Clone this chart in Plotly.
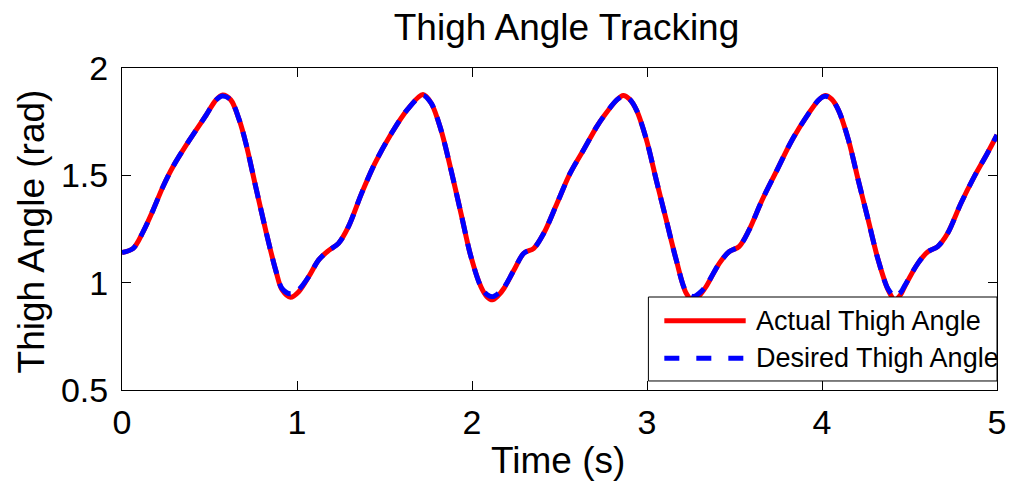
import plotly.graph_objects as go

# Sample times (s)
time_s = [
    0.000, 0.064, 0.121, 0.178, 0.234, 0.291, 0.386, 0.481, 0.537, 0.575,
    0.622, 0.670, 0.708, 0.764, 0.821, 0.878, 0.915, 0.963, 1.010, 1.067,
    1.124, 1.180, 1.237, 1.294, 1.369, 1.445, 1.540, 1.634, 1.720, 1.767,
    1.823, 1.880, 1.937, 1.994, 2.051, 2.085, 2.117, 2.150, 2.183, 2.240,
    2.296, 2.353, 2.410, 2.486, 2.561, 2.637, 2.713, 2.751, 2.826, 2.864,
    2.900, 2.940, 2.997, 3.053, 3.110, 3.167, 3.224, 3.265, 3.300, 3.337,
    3.413, 3.469, 3.526, 3.583, 3.658, 3.734, 3.829, 3.924, 3.980, 4.018,
    4.055, 4.094, 4.151, 4.207, 4.264, 4.321, 4.378, 4.415, 4.450, 4.472,
    4.548, 4.605, 4.661, 4.718, 4.794, 4.870, 4.945, 5.000,
]

# Measured thigh angle (rad)
actual_angle = [
    1.140, 1.160, 1.238, 1.339, 1.447, 1.540, 1.665, 1.781, 1.851, 1.874,
    1.851, 1.758, 1.649, 1.447, 1.245, 1.059, 0.966, 0.932, 0.958, 1.028,
    1.106, 1.149, 1.183, 1.261, 1.416, 1.556, 1.696, 1.810, 1.876, 1.836,
    1.711, 1.525, 1.323, 1.121, 0.981, 0.935, 0.920, 0.940, 0.974, 1.059,
    1.137, 1.160, 1.230, 1.370, 1.510, 1.618, 1.727, 1.773, 1.850, 1.872,
    1.855, 1.804, 1.665, 1.478, 1.292, 1.106, 0.951, 0.915, 0.940, 0.981,
    1.090, 1.144, 1.168, 1.245, 1.385, 1.510, 1.665, 1.789, 1.850, 1.872,
    1.855, 1.804, 1.665, 1.478, 1.292, 1.106, 0.966, 0.920, 0.945, 0.981,
    1.090, 1.144, 1.168, 1.230, 1.370, 1.494, 1.603, 1.688,
]

# Reference (desired) thigh angle (rad)
desired_angle = [
    1.140, 1.160, 1.238, 1.339, 1.447, 1.540, 1.665, 1.781, 1.851, 1.870,
    1.851, 1.758, 1.649, 1.447, 1.245, 1.059, 0.972, 0.948, 0.968, 1.028,
    1.106, 1.149, 1.183, 1.261, 1.416, 1.556, 1.696, 1.810, 1.872, 1.836,
    1.711, 1.525, 1.323, 1.121, 0.981, 0.945, 0.935, 0.950, 0.978, 1.059,
    1.137, 1.160, 1.230, 1.370, 1.510, 1.618, 1.727, 1.773, 1.850, 1.868,
    1.855, 1.804, 1.665, 1.478, 1.292, 1.106, 0.958, 0.935, 0.952, 0.985,
    1.090, 1.144, 1.168, 1.245, 1.385, 1.510, 1.665, 1.789, 1.850, 1.868,
    1.855, 1.804, 1.665, 1.478, 1.292, 1.106, 0.970, 0.938, 0.955, 0.985,
    1.090, 1.144, 1.168, 1.230, 1.370, 1.494, 1.603, 1.688,
]

x_ticks = [0, 1, 2, 3, 4, 5]
x_tick_labels = ["0", "1", "2", "3", "4", "5"]
y_ticks = [0.5, 1.0, 1.5, 2.0]
y_tick_labels = ["0.5", "1", "1.5", "2"]

series_names = ["Actual Thigh Angle", "Desired Thigh Angle"]

FONT = "Liberation Sans, Arial, Helvetica, sans-serif"
RED = "#ff0000"
BLUE = "#0000ff"
DASH = "16px,10px"

fig = go.Figure()
fig.add_trace(go.Scatter(
    x=time_s, y=actual_angle, mode="lines", name=series_names[0],
    line=dict(color=RED, width=5, shape="spline", smoothing=0.9),
    showlegend=False,
))
fig.add_trace(go.Scatter(
    x=time_s, y=desired_angle, mode="lines", name=series_names[1],
    line=dict(color=BLUE, width=5, dash=DASH, shape="spline", smoothing=0.9),
    showlegend=False,
))

axis_common = dict(
    showline=True, linecolor="black", linewidth=1, mirror="ticks",
    ticks="inside", ticklen=9, tickwidth=1, tickcolor="black",
    showgrid=False, zeroline=False,
    tickfont=dict(family=FONT, size=34, color="black"),
)

fig.update_xaxes(range=[0, 5], tickvals=x_ticks, ticktext=x_tick_labels,
                 ticklabelstandoff=2, **axis_common)
fig.update_yaxes(range=[0.5, 2], tickvals=y_ticks, ticktext=y_tick_labels,
                 ticklabelstandoff=6, **axis_common)

# Axis titles and plot title
annotations = [
    dict(text="Time (s)", xref="paper", yref="paper", x=0.498, y=-0.22,
         xanchor="center", yanchor="middle", showarrow=False,
         font=dict(family=FONT, size=37, color="black")),
    dict(text="Thigh Angle (rad)", xref="paper", yref="paper", x=-0.103, y=0.492,
         xanchor="center", yanchor="middle", textangle=-90, showarrow=False,
         font=dict(family=FONT, size=37, color="black")),
]

# Legend box in the lower right corner of the axes
leg_x0, leg_x1, leg_y0, leg_y1 = 0.6016, 1.0, 0.028, 0.2888
row_y = [0.2152, 0.0984]
shapes = [
    dict(type="rect", xref="paper", yref="paper", x0=leg_x0, x1=leg_x1,
         y0=leg_y0, y1=leg_y1, line=dict(color="black", width=1),
         fillcolor="white", layer="above"),
    dict(type="line", xref="paper", yref="paper", x0=0.6198, x1=0.7128,
         y0=row_y[0], y1=row_y[0], line=dict(color=RED, width=5), layer="above"),
    dict(type="line", xref="paper", yref="paper", x0=0.6198, x1=0.7128,
         y0=row_y[1], y1=row_y[1], line=dict(color=BLUE, width=5, dash="15px,17px"),
         layer="above"),
]
for name, yy in zip(series_names, row_y):
    annotations.append(dict(
        text=name, xref="paper", yref="paper", x=0.7219, y=yy,
        xanchor="left", yanchor="middle", showarrow=False,
        font=dict(family=FONT, size=27, color="black")))

fig.update_layout(
    width=1018, height=487,
    margin=dict(l=122, r=15, t=68, b=97),
    paper_bgcolor="white", plot_bgcolor="white",
    title=dict(text="Thigh Angle Tracking", x=0.5565, xanchor="center",
               y=1 - 27 / 487, yanchor="middle", yref="container",
               font=dict(family=FONT, size=37, color="black")),
    annotations=annotations,
    shapes=shapes,
)

fig.write_html("out.html")
